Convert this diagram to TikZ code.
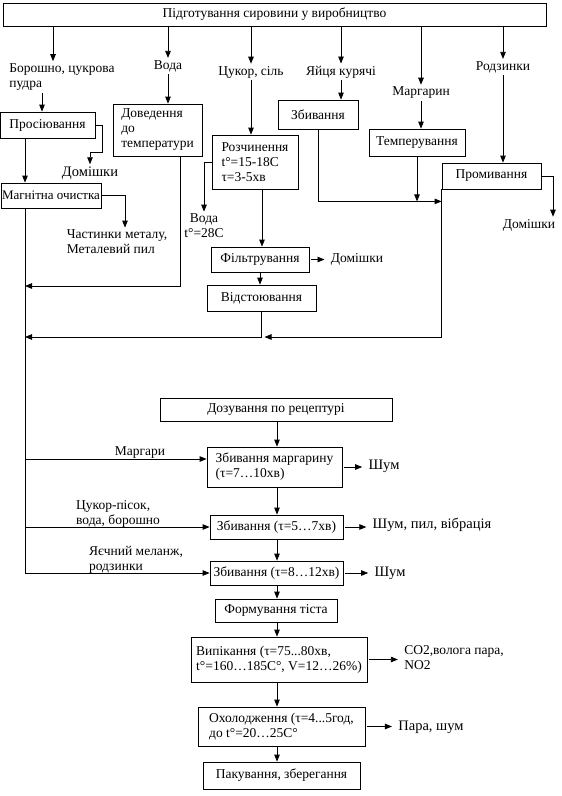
\documentclass[tikz,border=0pt]{standalone}
\usepackage{fontspec}
\setmainfont{Liberation Serif}
\usetikzlibrary{arrows.meta}
\usetikzlibrary{positioning}

\begin{document}
\begin{tikzpicture}[
  x=1pt, y=-1pt,
  every node/.style={font=\fontsize{13.5}{15}\selectfont, inner sep=2pt},
  box/.style={draw, line width=0.8pt, inner sep=0pt},
  big/.style={font=\fontsize{14.5}{16}\selectfont},
  emit/.style={->, shorten <=2pt, shorten >=4pt},
  >={Triangle[length=7pt,width=5.5pt]}, line width=0.8pt
]
  \useasboundingbox (0,0) rectangle (562,796);

  \node[box,minimum width=543pt,minimum height=23pt] (top) at (274.5,14.5) {Підготування сировини у виробництво};

  \node[align=left] (borosh) at (62,77) {Борошно, цукрова\\пудра};
  \node (voda1) at (168,66) {Вода};
  \node (tsukor) at (251,72) {Цукор, сіль};
  \node (yaytsia) at (341,72) {Яйця курячі};
  \node (marg) at (421,93) {Маргарин};
  \node (rodz) at (503,67) {Родзинки};

  \node[box,minimum width=95pt,minimum height=26pt] (prosiy) at (47.5,125) {Просіювання};
  \node[box,minimum width=89pt,minimum height=52pt,align=left] (doved) at (157.5,130) {Доведення\\до\\температури};
  \node[box,minimum width=80pt,minimum height=29pt] (eggbox) at (318,114.5) {Збивання};
  \node[box,minimum width=86pt,minimum height=54pt,align=left] (rozch) at (255,162) {Розчинення\\t°=15-18C\\τ=3-5хв};
  \node[box,minimum width=96pt,minimum height=27pt] (temper) at (417,142.5) {Темперування};
  \node[box,minimum width=99pt,minimum height=26pt] (promyv) at (491.5,176) {Промивання};
  \node[box,minimum width=100pt,minimum height=25pt,font=\fontsize{13}{15}\selectfont] (magn) at (51,195.5) {Магнітна очистка};

  \node[big] (domish1) at (90,173) {Домішки};
  \node[align=left] (chast) at (117,242) {Частинки металу,\\Металевий пил};
  \node[align=center] (voda2) at (204,226) {Вода\\t°=28C};
  \node[box,minimum width=98pt,minimum height=25pt] (filtr) at (260,259.5) {Фільтрування};
  \node (domish2) at (357,259) {Домішки};
  \node[box,minimum width=109pt,minimum height=26pt] (vidst) at (261.5,298) {Відстоювання};
  \node (domish3) at (529,225) {Домішки};

  \coordinate (trunk) at (25,573);
  \coordinate (j1) at (25,286);
  \coordinate (j2) at (25,337);
  \coordinate (ax) at (277,0);

  \node[box,minimum width=232pt,minimum height=23pt] (dozuv) at (276,409.5) {Дозування по рецептурі};
  \node[box,minimum width=135pt,minimum height=40pt,align=left] (zmarg) at (274.5,467) {Збивання маргарину\\(τ=7…10хв)};
  \node[box,minimum width=133pt,minimum height=24pt] (zbyv2) at (276.5,527) {Збивання (τ=5…7хв)};
  \node[box,minimum width=133pt,minimum height=24pt] (zbyv3) at (276.5,573) {Збивання (τ=8…12хв)};
  \node[box,minimum width=122pt,minimum height=23pt] (form) at (276,610.5) {Формування тіста};
  \node[box,minimum width=176pt,minimum height=45pt,align=left] (vypik) at (279,659.5) {Випікання (τ=75...80хв,\\t°=160…185C°, V=12…26\%)};
  \node[box,minimum width=167pt,minimum height=39pt,align=left] (oholod) at (281.5,726.5) {Охолодження (τ=4...5год,\\до t°=20…25C°};
  \node[box,minimum width=157pt,minimum height=27pt] (pakuv) at (281.5,775.5) {Пакування, зберегання};

  \node[big] (shum1) at (384,466) {Шум};
  \node[big] (shum2) at (432,525) {Шум, пил, вібрація};
  \node[big] (shum3) at (390,573) {Шум};
  \node[align=left] (co2) at (454,658) {CO2,волога пара,\\NO2};
  \node[big] (para) at (431,727) {Пара, шум};

  \node (margl) at (140,453) {Маргари};
  \node[align=left] (tsukl) at (118,514) {Цукор-пісок,\\вода, борошно};
  \node[align=left] (yaiechl) at (136,560) {Яєчний меланж,\\родзинки};

  \coordinate (bx) at ([xshift=-9pt]borosh.north);
  \draw[->] (top.south -| bx) -- (bx);
  \foreach \n in {voda1,tsukor,yaytsia,marg,rodz}
    \draw[->] (top.south -| \n.north) -- (\n.north);

  \coordinate (bs) at ([xshift=-20pt]borosh.south);
  \draw[->] (bs) -- (bs |- prosiy.north);
  \foreach \a/\b in {voda1/doved, tsukor/rozch, yaytsia/eggbox, marg/temper, rodz/promyv}
    \draw[->] (\a.south) -- (\a.south |- \b.north);

  \draw[->] (prosiy.south -| trunk) -- (magn.north -| trunk);
  \draw (magn.south -| trunk) -- (trunk);
  \draw[->] (prosiy.east) -- ++(7,0) |- ([yshift=12pt]domish1.north) -- (domish1.north);
  \coordinate (cx) at ([xshift=8pt]chast.north);
  \draw[->] (magn.east) -| (cx);
  \draw[->] ([xshift=22.5pt]doved.south) |- (j1);

  \draw[->] (rozch.west) -| (voda2.north);
  \coordinate (rx) at ([xshift=7pt]rozch.south);
  \draw[->] (rx) -- (rx |- filtr.north);
  \draw[->] (filtr.south) -- (filtr.south |- vidst.north);
  \draw[->] (vidst.south) |- (j2);
  \coordinate (vx) at ([xshift=3pt]vidst.south);
  \draw[->] (promyv.south west) |- (vx |- j2);
  \coordinate (j3) at ([yshift=-12pt]promyv.south west);
  \draw[->] (eggbox.south) |- (j3);
  \draw[->] (temper.south) -- (temper.south |- j3);
  \coordinate (dx) at ([xshift=24pt]domish3.north);
  \draw[->] (promyv.east) -| (dx);

  \foreach \a/\b in {dozuv/zmarg, zmarg/zbyv2, zbyv2/zbyv3, zbyv3/form, form/vypik, vypik/oholod, oholod/pakuv}
    \draw[->] (\a.south -| ax) -- (\b.north -| ax);

  \coordinate (mw) at ([yshift=8pt]zmarg.west);
  \draw[->] (mw -| trunk) -- (mw);
  \draw[->] (zbyv2.west -| trunk) -- (zbyv2.west);
  \draw[->] (trunk) -- (zbyv3.west);

  \foreach \a/\b in {filtr/domish2, zmarg/shum1, zbyv2/shum2, zbyv3/shum3, vypik/co2, oholod/para}
    \draw[emit] (\a.east) -- (\a.east -| \b.west);
\end{tikzpicture}
\end{document}
